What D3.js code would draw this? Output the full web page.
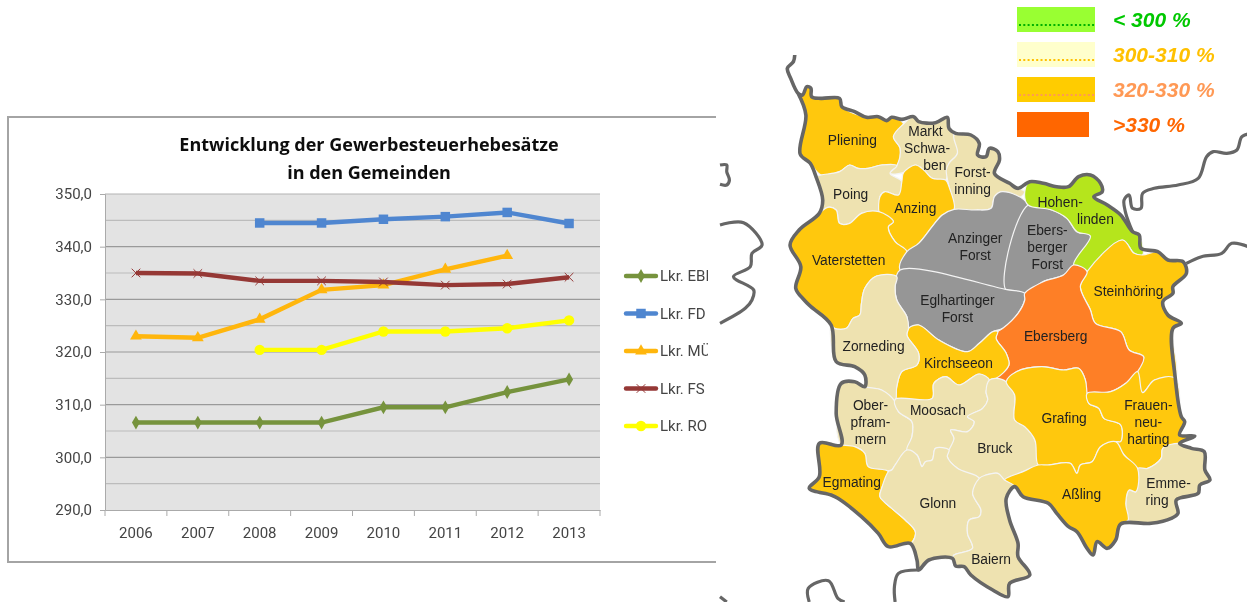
<!DOCTYPE html>
<html><head><meta charset="utf-8">
<style>html,body{margin:0;padding:0;background:#fff}svg{display:block}</style>
<script src="https://cdn.jsdelivr.net/npm/d3@7"></script>
</head><body><svg id="c" width="1247" height="602"></svg>
<script>
// ---- line chart data ----
const years = [2006,2007,2008,2009,2010,2011,2012,2013];
const yTicks = [290,300,310,320,330,340,350];
const minorTicks = [295,305,315,325,335,345];
const titleLines = ["Entwicklung der Gewerbesteuerhebesätze","in den Gemeinden"];
const seriesNames = ["Lkr. EBE","Lkr. FD","Lkr. MÜ","Lkr. FS","Lkr. RO"];
const seriesColors = ["#76933c","#4f86d0","#ffb60a","#953735","#ffff00"];
const seriesSymbols = ["diamond","square","triangle","star","circle"];
const ebe = [306.6,306.6,306.6,306.6,309.5,309.5,312.4,314.8];
const fd  = [null,null,344.5,344.5,345.2,345.7,346.5,344.4];
const mue = [323.0,322.7,326.2,331.8,332.7,335.7,338.3,null];
const fs  = [335.0,334.9,333.5,333.5,333.3,332.7,332.9,334.2];
const ro  = [null,null,320.4,320.4,323.9,323.9,324.5,326.0];
const seriesValues = [ebe,fd,mue,fs,ro];

// ---- map legend data ----
const mapLegendLabels = ["< 300 %","300-310 %","320-330 %",">330 %"];
const mapLegendFill = ["#99ff33","#ffffcc","#ffcc00","#ff6600"];
const mapLegendText = ["#00c800","#ffc000","#ff9955","#ff6600"];
const mapLegendDots = ["#00b000","#ffc000","#ff9955",null];

// ---- map data: outlines in a map grid of 1565 x 1806 units ----
const GOLD="#ffc80f", BEIGE="#eee2b0", GREY="#969696", LIME="#b5e51d", ORANGE="#fe7f26";
const plieningShape=[[232,280],[245,285],[258,260],[270,265],[272,290],[355,295],[362,320],[435,352],[470,350],[495,362],[510,352],[545,372],[515,410],[535,445],[525,497],[480,495],[440,505],[410,505],[385,495],[355,515],[300,525],[268,490],[238,462],[255,345]];
const schwabenShape=[[545,372],[575,350],[590,365],[640,368],[675,352],[680,385],[695,405],[705,460],[680,490],[670,540],[630,535],[605,510],[580,495],[545,518],[505,520],[525,497],[535,445],[515,410]];
const forstinningShape=[[695,405],[745,405],[770,430],[765,465],[790,470],[800,445],[825,455],[830,480],[815,520],[860,550],[885,565],[905,575],[890,592],[838,575],[815,590],[805,625],[760,630],[695,628],[680,560],[672,510],[680,490],[705,460]];
const poingShape=[[300,525],[355,515],[385,495],[410,505],[440,505],[480,495],[525,497],[505,520],[540,545],[530,585],[490,575],[475,590],[472,635],[420,640],[385,670],[355,670],[345,630],[320,622],[295,640],[305,600],[285,530]];
const anzingShape=[[545,518],[580,495],[605,510],[630,535],[670,540],[680,560],[695,628],[660,645],[630,680],[590,730],[555,755],[520,725],[500,680],[515,665],[475,640],[472,635],[475,590],[490,575],[530,585],[540,545]];
const vaterstettenShape=[[295,640],[320,622],[345,630],[355,670],[385,670],[420,640],[472,635],[515,665],[500,680],[520,725],[555,755],[535,810],[525,830],[465,828],[430,865],[420,910],[415,945],[395,955],[375,985],[340,985],[330,975],[270,920],[250,900],[225,865],[240,800],[208,735],[235,690]];
const anzForstShape=[[555,755],[590,730],[630,680],[660,645],[695,628],[760,630],[805,625],[815,590],[838,575],[915,615],[848,868],[535,810]];
const ebForstShape=[[915,615],[985,630],[1030,655],[1060,695],[1100,708],[1050,795],[1020,825],[960,845],[905,880],[848,868]];
const eglForstShape=[[535,810],[848,868],[905,880],[905,900],[885,940],[840,985],[810,995],[770,1030],[735,1055],[650,1020],[590,975],[560,985],[555,950],[525,900],[520,860]];
const hohenShape=[[905,575],[920,545],[960,550],[1000,560],[1035,560],[1065,530],[1100,525],[1130,550],[1135,575],[1110,590],[1150,615],[1190,645],[1225,695],[1245,705],[1255,765],[1230,760],[1195,720],[1090,815],[1050,795],[1100,708],[1060,695],[1030,655],[985,630],[915,615]];
const steinShape=[[1195,720],[1230,760],[1255,765],[1300,755],[1330,780],[1375,785],[1385,820],[1345,860],[1345,880],[1315,905],[1330,945],[1370,970],[1345,985],[1352,1135],[1290,1140],[1255,1178],[1240,1115],[1258,1070],[1215,1050],[1190,995],[1115,970],[1100,930],[1070,860],[1090,815]];
const ebersbergShape=[[1050,795],[1090,815],[1070,860],[1100,930],[1115,970],[1190,995],[1215,1050],[1258,1070],[1240,1115],[1205,1150],[1160,1175],[1090,1180],[1085,1140],[1065,1105],[1020,1110],[955,1100],[880,1115],[850,1145],[820,1135],[858,1095],[850,1060],[820,1015],[825,995],[840,985],[885,940],[905,900],[905,880],[960,845],[1020,825]];
const kirchShape=[[560,985],[590,975],[650,1020],[735,1055],[770,1030],[810,995],[825,995],[820,1015],[850,1060],[858,1095],[820,1135],[800,1140],[770,1122],[710,1155],[670,1130],[635,1150],[630,1195],[520,1198],[525,1160],[540,1115],[585,1095],[590,1060],[555,1005]];
const zornedingShape=[[340,985],[375,985],[395,955],[415,945],[420,910],[430,865],[465,828],[525,830],[520,860],[525,900],[555,950],[560,985],[555,1005],[590,1060],[585,1095],[540,1115],[525,1160],[520,1205],[480,1170],[430,1160],[430,1125],[400,1100],[345,1085],[330,975]];
const oberShape=[[360,1150],[400,1145],[430,1160],[480,1170],[520,1205],[530,1235],[570,1265],[570,1310],[555,1350],[520,1395],[510,1410],[440,1400],[430,1360],[400,1340],[360,1335],[345,1240]];
const moosachShape=[[520,1198],[630,1195],[635,1150],[670,1130],[710,1155],[770,1122],[800,1140],[790,1175],[795,1200],[780,1225],[735,1250],[755,1265],[735,1295],[685,1290],[695,1315],[680,1350],[640,1345],[630,1380],[610,1385],[600,1400],[585,1365],[555,1350],[570,1310],[570,1265],[530,1235]];
const bruckShape=[[800,1140],[820,1135],[850,1145],[875,1185],[875,1260],[905,1280],[935,1320],[945,1395],[900,1415],[845,1440],[825,1420],[790,1425],[770,1435],[705,1405],[675,1370],[680,1350],[695,1315],[685,1290],[735,1295],[755,1265],[735,1250],[780,1225],[795,1200],[790,1175]];
const grafingShape=[[850,1145],[880,1115],[955,1100],[1020,1110],[1065,1105],[1085,1140],[1090,1180],[1095,1210],[1125,1225],[1140,1255],[1190,1275],[1190,1325],[1175,1325],[1130,1340],[1105,1385],[1070,1395],[1060,1420],[1040,1390],[975,1395],[945,1395],[935,1320],[905,1280],[875,1260],[875,1185]];
const frauenShape=[[1090,1180],[1160,1175],[1205,1150],[1240,1115],[1255,1178],[1290,1140],[1352,1135],[1370,1250],[1380,1265],[1365,1305],[1410,1308],[1365,1330],[1315,1345],[1310,1375],[1270,1405],[1240,1405],[1200,1365],[1175,1325],[1190,1325],[1190,1275],[1140,1255],[1125,1225],[1095,1210]];
const emmeringShape=[[1365,1330],[1400,1345],[1438,1355],[1440,1410],[1455,1440],[1425,1455],[1420,1480],[1355,1500],[1360,1540],[1340,1555],[1280,1570],[1212,1560],[1205,1510],[1215,1470],[1235,1475],[1240,1405],[1270,1405],[1310,1375],[1315,1345]];
const asslingShape=[[945,1395],[975,1395],[1040,1390],[1060,1420],[1070,1395],[1105,1385],[1130,1340],[1175,1325],[1200,1365],[1240,1405],[1235,1475],[1215,1470],[1205,1510],[1212,1560],[1190,1572],[1175,1620],[1150,1645],[1120,1625],[1108,1665],[1090,1645],[1060,1595],[1035,1580],[1000,1540],[975,1510],[900,1490],[875,1460],[845,1440],[900,1415]];
const egmatingShape=[[295,1330],[360,1335],[400,1340],[430,1360],[440,1400],[500,1415],[480,1465],[475,1490],[510,1525],[550,1560],[580,1595],[572,1625],[565,1630],[500,1640],[470,1600],[420,1550],[350,1495],[330,1485],[265,1465],[295,1430]];
const glonnShape=[[510,1410],[520,1395],[555,1350],[585,1365],[600,1400],[610,1385],[630,1380],[640,1345],[680,1350],[675,1370],[705,1405],[770,1435],[750,1480],[775,1530],[770,1550],[740,1560],[735,1600],[750,1645],[695,1665],[690,1675],[620,1680],[590,1710],[585,1680],[565,1630],[572,1625],[580,1595],[550,1560],[510,1525],[475,1490],[480,1465],[500,1415]];
const baiernShape=[[770,1435],[790,1425],[825,1420],[845,1440],[875,1460],[850,1495],[860,1560],[885,1630],[885,1670],[920,1725],[860,1750],[855,1790],[810,1770],[745,1725],[725,1700],[700,1698],[690,1675],[695,1665],[750,1645],[735,1600],[740,1560],[770,1550],[775,1530],[750,1480]];

const regionShapes=[plieningShape,schwabenShape,forstinningShape,poingShape,anzingShape,vaterstettenShape,anzForstShape,ebForstShape,eglForstShape,hohenShape,steinShape,ebersbergShape,kirchShape,zornedingShape,oberShape,moosachShape,bruckShape,grafingShape,frauenShape,emmeringShape,asslingShape,egmatingShape,glonnShape,baiernShape];
const regionFills=[GOLD,BEIGE,BEIGE,BEIGE,GOLD,GOLD,GREY,GREY,GREY,LIME,GOLD,ORANGE,GOLD,BEIGE,BEIGE,BEIGE,BEIGE,GOLD,GOLD,BEIGE,GOLD,GOLD,BEIGE,BEIGE];

const labelTexts=[["Pliening"],["Markt","Schwa-","ben"],["Forst-","inning"],["Poing"],["Anzing"],["Vaterstetten"],["Anzinger","Forst"],["Ebers-","berger","Forst"],["Eglhartinger","Forst"],["Hohen-","linden"],["Steinhöring"],["Ebersberg"],["Kirchseeon"],["Zorneding"],["Ober-","pfram-","mern"],["Moosach"],["Bruck"],["Grafing"],["Frauen-","neu-","harting"],["Emme-","ring"],["Aßling"],["Egmating"],["Glonn"],["Baiern"]];
const labelCenters=[[393,420],[620,445],[750,540],[388,582],[580,625],[382,780],[758,740],[972,742],[705,925],[1062,630],[1213,873],[997,1008],[708,1088],[456,1038],[447,1267],[647,1231],[816,1345],[1022,1255],[1272,1265],[1315,1474],[1074,1481],[391,1446],[647,1510],[805,1677]];
const labelLineShifts={1:[-10,-5,18],9:[-52,53],19:[17,-17]};

const outerBorder=[[222,165],[218,185],[200,205],[210,235],[232,280],[245,285],[258,260],[270,265],[272,290],[300,295],[355,295],[362,320],[400,335],[435,352],[470,350],[495,362],[510,352],[540,358],[575,350],[590,365],[640,368],[675,352],[680,385],[700,400],[745,405],[770,430],[765,465],[790,470],[800,445],[825,455],[830,480],[815,520],[860,550],[885,565],[920,545],[960,550],[1000,560],[1035,560],[1065,530],[1100,525],[1130,550],[1135,575],[1110,590],[1150,615],[1190,645],[1225,695],[1245,705],[1250,745],[1300,755],[1330,780],[1375,785],[1385,820],[1345,860],[1345,880],[1315,905],[1330,945],[1370,970],[1345,985],[1352,1135],[1370,1250],[1380,1265],[1365,1305],[1410,1308],[1365,1330],[1400,1345],[1438,1355],[1440,1410],[1455,1440],[1425,1455],[1420,1480],[1355,1500],[1360,1540],[1340,1555],[1280,1570],[1190,1572],[1175,1620],[1150,1645],[1120,1625],[1108,1665],[1090,1645],[1060,1595],[1035,1580],[1000,1540],[975,1510],[900,1490],[875,1460],[850,1495],[860,1560],[885,1630],[885,1670],[920,1725],[860,1750],[855,1790],[810,1770],[745,1725],[725,1700],[700,1698],[690,1675],[620,1680],[590,1710],[585,1680],[565,1630],[500,1640],[470,1600],[420,1550],[350,1495],[330,1485],[265,1465],[295,1430],[295,1330],[360,1335],[345,1240],[360,1150],[400,1145],[430,1160],[430,1125],[400,1100],[345,1085],[330,975],[270,920],[250,900],[225,865],[240,800],[208,735],[235,690],[295,640],[305,600],[285,530],[268,490],[238,462],[255,345],[232,280]];
const neighbourA=[[1225,695],[1205,640],[1200,600],[1215,585],[1225,625],[1250,625],[1255,580],[1290,565],[1360,555],[1420,535],[1445,470],[1465,455],[1505,460],[1535,450],[1550,410],[1581,400]];
const neighbourB=[[1385,790],[1430,770],[1490,760],[1520,730],[1581,745]];
const neighbourC=[[0,495],[20,495],[20,515],[28,540],[20,555],[0,553]];
const neighbourD=[[0,675],[70,668],[125,735],[95,760],[90,800],[40,830],[100,870],[95,900],[75,925],[0,970]];
const neighbourE=[[590,1710],[530,1720],[518,1760],[520,1806]];
const neighbourF=[[265,1806],[262,1765],[322,1742],[350,1795],[370,1806]];
const neighbourG=[[0,1790],[20,1806]];
const neighbours=[neighbourA,neighbourB,neighbourC,neighbourD,neighbourE,neighbourF,neighbourG];

// ---- drawing ----
const svg=d3.select("#c");
const defs=svg.append("defs");
defs.append("filter").attr("id","soft").append("feGaussianBlur").attr("stdDeviation",0.6);
defs.append("filter").attr("id","soft2").append("feGaussianBlur").attr("stdDeviation",0.4);
defs.append("clipPath").attr("id","legendClip").append("rect").attr("x",0).attr("y",0).attr("width",708).attr("height",602);

const comma=v=>d3.format(".1f")(v).replace(".",",");
const plotLeft=105,plotRight=600,plotTop=194,plotBottom=510;
const x=d3.scaleBand().domain(years).range([plotLeft,plotRight]);
const y=d3.scaleLinear().domain([290,350]).range([plotBottom,plotTop]);

const chart=svg.append("g").attr("filter","url(#soft)");
chart.append("path").attr("d",`M716,117H8V562H716`).attr("fill","none").attr("stroke","#a4a4a4").attr("stroke-width",2);
chart.append("rect").attr("x",plotLeft).attr("y",plotTop).attr("width",plotRight-plotLeft).attr("height",plotBottom-plotTop).attr("fill","#e3e3e3");
chart.append("g").selectAll("line").data(minorTicks).join("line")
  .attr("x1",plotLeft).attr("x2",plotRight).attr("y1",y).attr("y2",y).attr("stroke","#bcbcbc").attr("stroke-width",1.2);
chart.append("g").selectAll("line").data(yTicks.filter(d=>d!==290&&d!==350)).join("line")
  .attr("x1",plotLeft).attr("x2",plotRight).attr("y1",y).attr("y2",y).attr("stroke","#9a9a9a").attr("stroke-width",1.2);
chart.append("line").attr("x1",plotLeft).attr("x2",plotRight).attr("y1",plotTop).attr("y2",plotTop).attr("stroke","#b4b4b4").attr("stroke-width",1.2);

const axisFont="'Liberation Sans Narrow','Roboto',sans-serif";
const gy=chart.append("g").attr("transform",`translate(${plotLeft},0)`)
  .call(d3.axisLeft(y).tickValues(yTicks).tickFormat(comma).tickSize(5).tickPadding(8));
gy.selectAll(".domain,.tick line").attr("stroke","#aaa");
gy.selectAll("text").attr("font-family",axisFont).attr("font-size",15).attr("fill","#444");
const gx=chart.append("g").attr("transform",`translate(0,${plotBottom})`)
  .call(d3.axisBottom(x).tickSize(0).tickPadding(17));
gx.select(".domain").attr("stroke","#aaa");
gx.selectAll("text").attr("font-family",axisFont).attr("font-size",15).attr("fill","#444");
chart.append("g").selectAll("line").data(d3.range(0,9)).join("line")
  .attr("x1",i=>plotLeft+i*x.step()).attr("x2",i=>plotLeft+i*x.step()).attr("y1",plotBottom).attr("y2",plotBottom+6).attr("stroke","#aaa");

chart.append("g").selectAll("text").data(titleLines).join("text")
  .attr("x",369).attr("y",(d,i)=>151+i*28).attr("text-anchor","middle")
  .attr("font-family","'Open Sans',sans-serif").attr("font-weight",700).attr("font-size",18).attr("fill","#111").text(d=>d);

const line=d3.line().defined(d=>d.v!==null).x(d=>x(d.y)+x.bandwidth()/2).y(d=>y(d.v));
const symbolType={diamond:d3.symbolDiamond,square:d3.symbolSquare,triangle:d3.symbolTriangle,star:d3.symbolX,circle:d3.symbolCircle};
const symbolSize={diamond:55,square:90,triangle:60,star:50,circle:85};
function marker(sel,i){
  const n=seriesSymbols[i];
  sel.attr("d",d3.symbol().type(symbolType[n]).size(symbolSize[n])()).attr("fill",seriesColors[i])
     .attr("stroke",n==="star"?seriesColors[i]:"none").attr("stroke-width",n==="star"?1:0);
}
seriesValues.forEach((vals,i)=>{
  const pts=years.map((yr,j)=>({y:yr,v:vals[j]}));
  const g=chart.append("g");
  g.append("path").attr("d",line(pts)).attr("fill","none").attr("stroke",seriesColors[i]).attr("stroke-width",4.4);
  g.selectAll("path.m").data(pts.filter(d=>d.v!==null)).join("path").attr("class","m")
    .attr("transform",d=>`translate(${x(d.y)+x.bandwidth()/2},${y(d.v)})`).call(marker,i);
});
const ly=d3.scalePoint().domain(seriesNames).range([276,426]);
const lg=chart.append("g").attr("clip-path","url(#legendClip)");
seriesNames.forEach((n,i)=>{
  lg.append("line").attr("x1",626).attr("x2",656).attr("y1",ly(n)).attr("y2",ly(n)).attr("stroke",seriesColors[i]).attr("stroke-width",4.4).attr("stroke-linecap","round");
  lg.append("path").attr("transform",`translate(641,${ly(n)})`).call(marker,i);
  lg.append("text").attr("x",660).attr("y",ly(n)+5).attr("font-family",axisFont).attr("font-size",15).attr("fill","#444").text(n);
});

// map
const mx=d3.scaleLinear().domain([0,1565]).range([720,1247]);
const my=d3.scaleLinear().domain([0,1806]).range([0,602]);
const mapLine=d3.line().x(d=>mx(d[0])).y(d=>my(d[1])).curve(d3.curveCatmullRom.alpha(0.5));
const mapClosed=d3.line().x(d=>mx(d[0])).y(d=>my(d[1])).curve(d3.curveCatmullRomClosed.alpha(0.5));
svg.append("rect").attr("x",716).attr("y",0).attr("width",531).attr("height",602).attr("fill","#fff");
const map=svg.append("g").attr("filter","url(#soft2)");
map.append("g").selectAll("path").data(neighbours).join("path").attr("d",mapLine)
  .attr("fill","none").attr("stroke","#666").attr("stroke-width",3.2).attr("stroke-linejoin","round");
map.append("g").selectAll("path").data(regionShapes).join("path")
  .attr("d",mapClosed).attr("fill",(d,i)=>regionFills[i]).attr("stroke","#f4f4f4").attr("stroke-width",1.2).attr("stroke-linejoin","round");
map.append("path").attr("d",mapLine(outerBorder)).attr("fill","none").attr("stroke","#666").attr("stroke-width",3.6).attr("stroke-linejoin","round");
const labs=map.append("g");
labelTexts.forEach((ls,i)=>{
  const [cx,cy]=labelCenters[i];
  const shifts=labelLineShifts[i]||[];
  ls.forEach((s,k)=>{
    labs.append("text").attr("x",mx(cx+(shifts[k]||0))).attr("y",my(cy)+(k-(ls.length-1)/2)*17+5)
      .attr("text-anchor","middle").attr("font-family","'Liberation Sans',Arial,sans-serif")
      .attr("font-size",13.8).attr("fill","#222").text(s);
  });
});
const lgY=d3.scaleBand().domain(mapLegendLabels).range([7,7+35*4]);
mapLegendLabels.forEach((s,i)=>{
  const yy=lgY(s);
  const w=i===3?72:78;
  map.append("rect").attr("x",1017).attr("y",yy).attr("width",w).attr("height",25).attr("fill",mapLegendFill[i]);
  if(mapLegendDots[i]) map.append("line").attr("x1",1019).attr("x2",1095).attr("y1",yy+18).attr("y2",yy+18)
    .attr("stroke",mapLegendDots[i]).attr("stroke-width",2).attr("stroke-dasharray","2 2.3");
  map.append("text").attr("x",1113).attr("y",yy+20).attr("font-family","'Liberation Sans',Arial,sans-serif")
    .attr("font-weight",700).attr("font-style","italic").attr("font-size",21).attr("fill",mapLegendText[i]).text(s);
});
</script></body></html>
